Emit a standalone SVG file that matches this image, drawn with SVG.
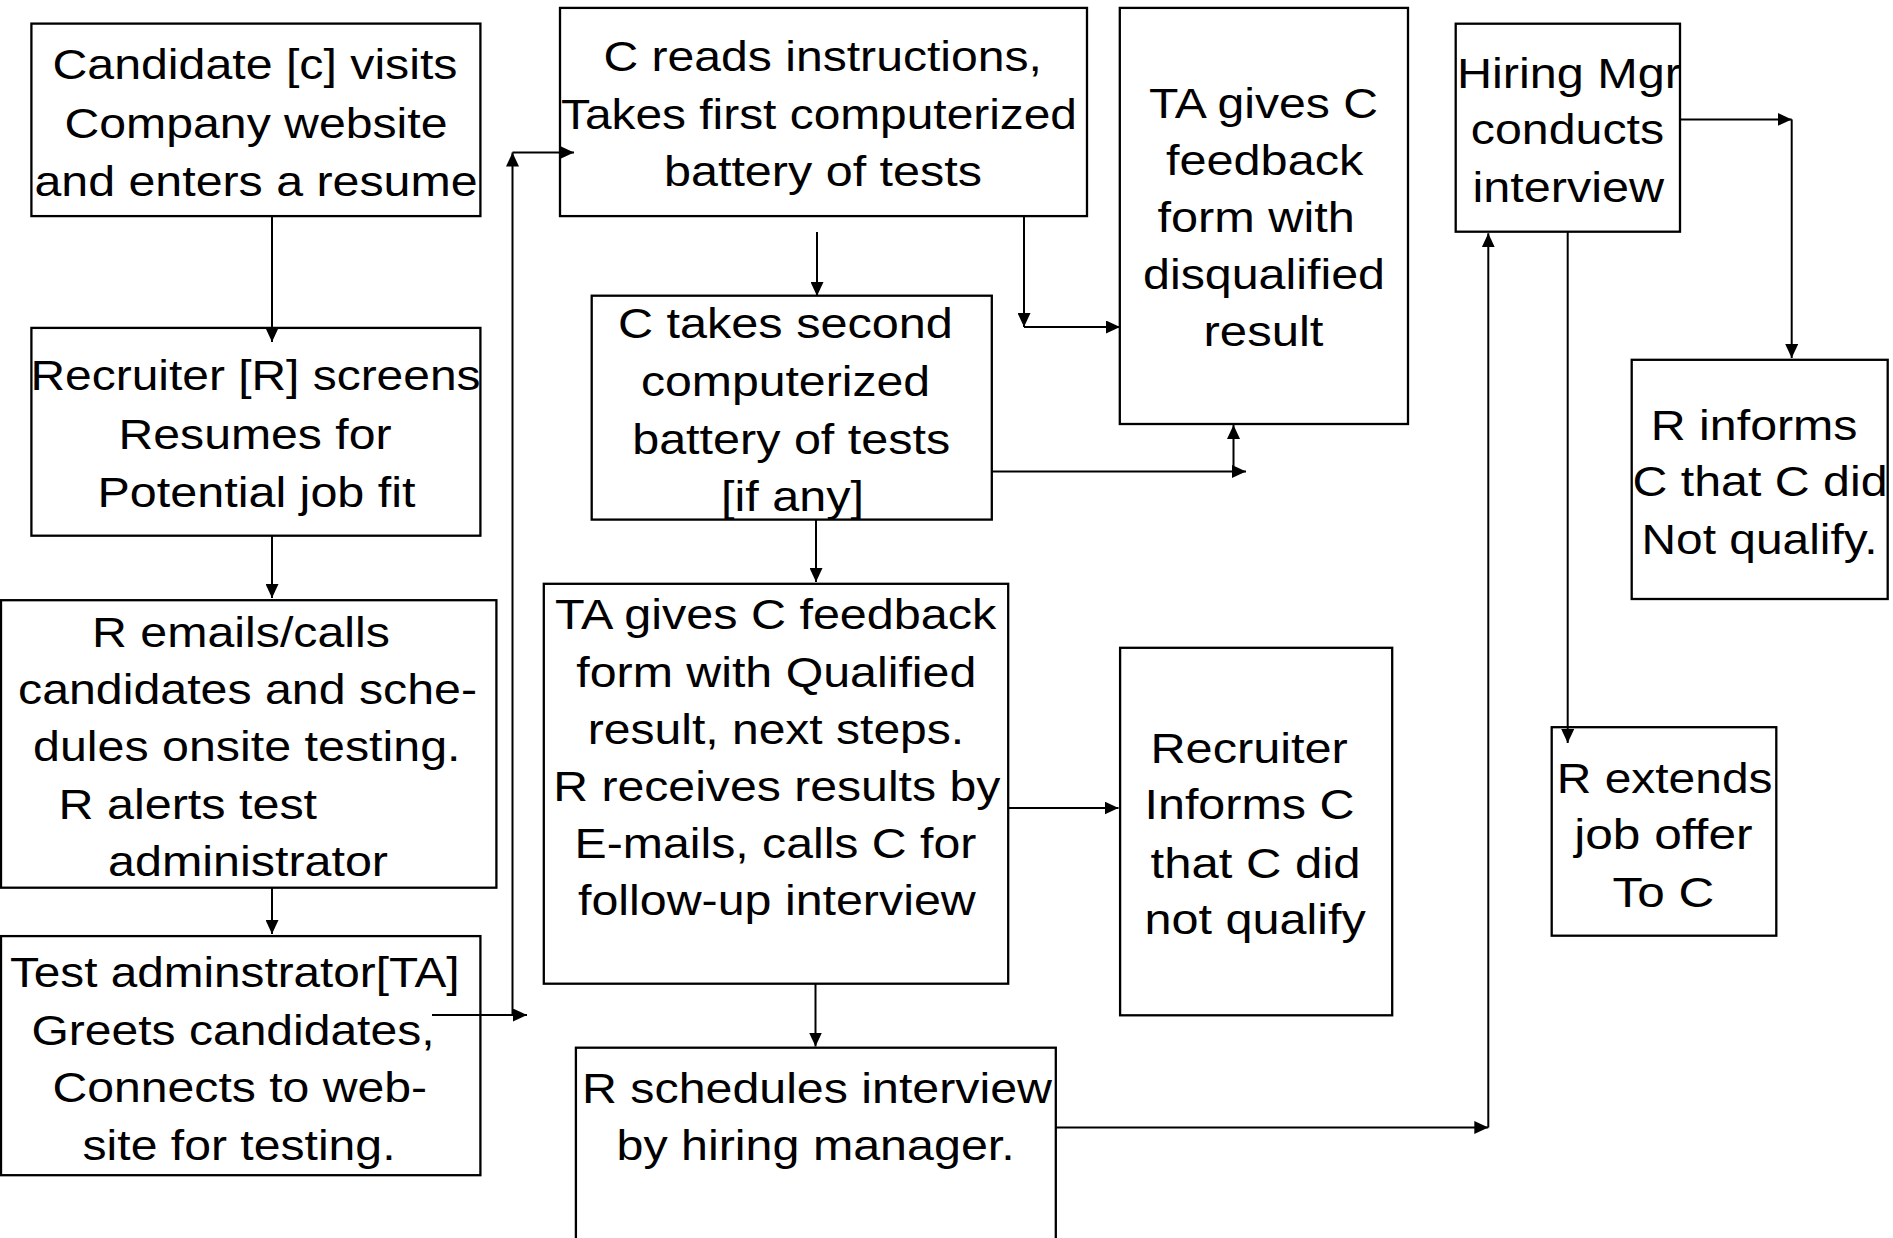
<svg xmlns="http://www.w3.org/2000/svg" width="1893" height="1238" viewBox="0 0 1893 1238">
<style>
.box{fill:#fff;stroke:#000;stroke-width:2.3}
.t{font-family:"Liberation Sans",Arial,sans-serif;font-size:42px;fill:#000}
.c{fill:none;stroke:#000;stroke-width:2}
</style>
<defs>
<marker id="ah" markerUnits="userSpaceOnUse" markerWidth="15" markerHeight="13" refX="14" refY="6.5" orient="auto"><path d="M0,0 L14,6.5 L0,13 z" fill="#000"/></marker>
</defs>
<rect width="1893" height="1238" fill="#fff"/>
<g id="n1">
<rect class="box" x="31.4" y="23.6" width="449" height="192.5"/>
<text class="t" lengthAdjust="spacingAndGlyphs" x="52.5" y="79" textLength="405">Candidate [c] visits</text>
<text class="t" lengthAdjust="spacingAndGlyphs" x="64.5" y="137.5" textLength="383">Company website</text>
<text class="t" lengthAdjust="spacingAndGlyphs" x="34.5" y="196" textLength="443">and enters a resume</text>
</g>
<g id="n2">
<rect class="box" x="31.4" y="327.9" width="449" height="207.8"/>
<text class="t" lengthAdjust="spacingAndGlyphs" x="30.5" y="390" textLength="450">Recruiter [R] screens</text>
<text class="t" lengthAdjust="spacingAndGlyphs" x="118.5" y="449" textLength="273">Resumes for</text>
<text class="t" lengthAdjust="spacingAndGlyphs" x="97.5" y="507" textLength="318">Potential job fit</text>
</g>
<g id="n3">
<rect class="box" x="1" y="600.2" width="495.4" height="287.5"/>
<text class="t" lengthAdjust="spacingAndGlyphs" x="92" y="646.5" textLength="298">R emails/calls</text>
<text class="t" lengthAdjust="spacingAndGlyphs" x="18" y="703.5" textLength="459">candidates and sche-</text>
<text class="t" lengthAdjust="spacingAndGlyphs" x="33" y="761" textLength="427.5">dules onsite testing.</text>
<text class="t" lengthAdjust="spacingAndGlyphs" x="58.5" y="819" textLength="258.6">R alerts test</text>
<text class="t" lengthAdjust="spacingAndGlyphs" x="108" y="875.6" textLength="280">administrator</text>
</g>
<g id="n4">
<rect class="box" x="1" y="936.1" width="479.4" height="239.1"/>
<text class="t" lengthAdjust="spacingAndGlyphs" x="10" y="987" textLength="449.6">Test adminstrator[TA]</text>
<text class="t" lengthAdjust="spacingAndGlyphs" x="31.5" y="1044.5" textLength="403">Greets candidates,</text>
<text class="t" lengthAdjust="spacingAndGlyphs" x="52.5" y="1102" textLength="374.6">Connects to web-</text>
<text class="t" lengthAdjust="spacingAndGlyphs" x="82.5" y="1159.5" textLength="313">site for testing.</text>
</g>
<g id="n5">
<rect class="box" x="560" y="7.9" width="527" height="208.2"/>
<text class="t" lengthAdjust="spacingAndGlyphs" x="603.5" y="71.4" textLength="438.4">C reads instructions,</text>
<text class="t" lengthAdjust="spacingAndGlyphs" x="561" y="128.6" textLength="516">Takes first computerized</text>
<text class="t" lengthAdjust="spacingAndGlyphs" x="664" y="185.7" textLength="318">battery of tests</text>
</g>
<g id="n6">
<rect class="box" x="591.7" y="295.7" width="400.1" height="223.9"/>
<text class="t" lengthAdjust="spacingAndGlyphs" x="617.9" y="337.5" textLength="335">C takes second</text>
<text class="t" lengthAdjust="spacingAndGlyphs" x="641" y="396.4" textLength="289">computerized</text>
<text class="t" lengthAdjust="spacingAndGlyphs" x="632.2" y="453.6" textLength="318">battery of tests</text>
<text class="t" lengthAdjust="spacingAndGlyphs" x="721" y="510.7" textLength="143">[if any]</text>
</g>
<g id="n7">
<rect class="box" x="1119.8" y="7.9" width="288.2" height="416.1"/>
<text class="t" lengthAdjust="spacingAndGlyphs" x="1149" y="118" textLength="229">TA gives C</text>
<text class="t" lengthAdjust="spacingAndGlyphs" x="1166" y="175" textLength="197.3">feedback</text>
<text class="t" lengthAdjust="spacingAndGlyphs" x="1157.5" y="232" textLength="197.3">form with</text>
<text class="t" lengthAdjust="spacingAndGlyphs" x="1143" y="289.3" textLength="242">disqualified</text>
<text class="t" lengthAdjust="spacingAndGlyphs" x="1203.5" y="346.4" textLength="120">result</text>
</g>
<g id="n8">
<rect class="box" x="543.8" y="583.8" width="464.4" height="399.9"/>
<text class="t" lengthAdjust="spacingAndGlyphs" x="555" y="629.2" textLength="441.3">TA gives C feedback</text>
<text class="t" lengthAdjust="spacingAndGlyphs" x="576.3" y="686.7" textLength="400">form with Qualified</text>
<text class="t" lengthAdjust="spacingAndGlyphs" x="587.8" y="743.7" textLength="376.4">result, next steps.</text>
<text class="t" lengthAdjust="spacingAndGlyphs" x="553.3" y="800.5" textLength="447">R receives results by</text>
<text class="t" lengthAdjust="spacingAndGlyphs" x="574.6" y="858" textLength="401.7">E-mails, calls C for</text>
<text class="t" lengthAdjust="spacingAndGlyphs" x="578" y="915.4" textLength="397.7">follow-up interview</text>
</g>
<g id="n9">
<rect class="box" x="1120.1" y="647.8" width="272.1" height="367.5"/>
<text class="t" lengthAdjust="spacingAndGlyphs" x="1150.5" y="763.2" textLength="197.3">Recruiter</text>
<text class="t" lengthAdjust="spacingAndGlyphs" x="1144.5" y="819.4" textLength="210">Informs C</text>
<text class="t" lengthAdjust="spacingAndGlyphs" x="1150.5" y="877.8" textLength="210">that C did</text>
<text class="t" lengthAdjust="spacingAndGlyphs" x="1144.5" y="934" textLength="221.4">not qualify</text>
</g>
<g id="n10">
<rect class="box" x="575.9" y="1047.7" width="479.9" height="210"/>
<text class="t" lengthAdjust="spacingAndGlyphs" x="582" y="1102.6" textLength="470">R schedules interview</text>
<text class="t" lengthAdjust="spacingAndGlyphs" x="616.5" y="1160" textLength="398.2">by hiring manager.</text>
</g>
<g id="n11">
<rect class="box" x="1455.7" y="23.7" width="224.3" height="208"/>
<text class="t" lengthAdjust="spacingAndGlyphs" x="1457" y="87.8" textLength="224">Hiring Mgr</text>
<text class="t" lengthAdjust="spacingAndGlyphs" x="1470.8" y="144.3" textLength="193.3">conducts</text>
<text class="t" lengthAdjust="spacingAndGlyphs" x="1472.5" y="202.4" textLength="191.7">interview</text>
</g>
<g id="n12">
<rect class="box" x="1631.7" y="359.8" width="256" height="239.2"/>
<text class="t" lengthAdjust="spacingAndGlyphs" x="1650.8" y="439.7" textLength="206.7">R informs</text>
<text class="t" lengthAdjust="spacingAndGlyphs" x="1632.5" y="496.2" textLength="255">C that C did</text>
<text class="t" lengthAdjust="spacingAndGlyphs" x="1641.5" y="553.6" textLength="236">Not qualify.</text>
</g>
<g id="n13">
<rect class="box" x="1551.7" y="727.2" width="224.6" height="208.5"/>
<text class="t" lengthAdjust="spacingAndGlyphs" x="1556.8" y="792.6" textLength="215.7">R extends</text>
<text class="t" lengthAdjust="spacingAndGlyphs" x="1574.2" y="849.4" textLength="178.3">job offer</text>
<text class="t" lengthAdjust="spacingAndGlyphs" x="1612.5" y="907" textLength="101.7">To C</text>
</g>
<g id="connectors">
<line class="c" x1="272" y1="216" x2="272" y2="342" marker-end="url(#ah)"/>
<line class="c" x1="272" y1="536" x2="272" y2="598" marker-end="url(#ah)"/>
<line class="c" x1="272" y1="888" x2="272" y2="934" marker-end="url(#ah)"/>
<line class="c" x1="432" y1="1015" x2="527" y2="1015" marker-end="url(#ah)"/>
<line class="c" x1="512.5" y1="1015" x2="512.5" y2="152.5" marker-end="url(#ah)"/>
<line class="c" x1="512.5" y1="152.5" x2="574" y2="152.5" marker-end="url(#ah)"/>
<line class="c" x1="817" y1="232" x2="817" y2="296" marker-end="url(#ah)"/>
<line class="c" x1="1024" y1="216" x2="1024" y2="327" marker-end="url(#ah)"/>
<line class="c" x1="1024" y1="327" x2="1120" y2="327" marker-end="url(#ah)"/>
<line class="c" x1="992" y1="471.5" x2="1246" y2="471.5" marker-end="url(#ah)"/>
<line class="c" x1="1233.5" y1="471.5" x2="1233.5" y2="425" marker-end="url(#ah)"/>
<line class="c" x1="816" y1="520" x2="816" y2="582" marker-end="url(#ah)"/>
<line class="c" x1="1008" y1="808" x2="1118.5" y2="808" marker-end="url(#ah)"/>
<line class="c" x1="815.5" y1="984" x2="815.5" y2="1046.5" marker-end="url(#ah)"/>
<line class="c" x1="1056" y1="1127.5" x2="1488.3" y2="1127.5" marker-end="url(#ah)"/>
<line class="c" x1="1488.3" y1="1127.5" x2="1488.3" y2="233.3" marker-end="url(#ah)"/>
<line class="c" x1="1680" y1="119.4" x2="1791.7" y2="119.4" marker-end="url(#ah)"/>
<line class="c" x1="1791.7" y1="119.4" x2="1791.7" y2="358" marker-end="url(#ah)"/>
<line class="c" x1="1567.7" y1="231.7" x2="1567.7" y2="743" marker-end="url(#ah)"/>
</g>
</svg>
